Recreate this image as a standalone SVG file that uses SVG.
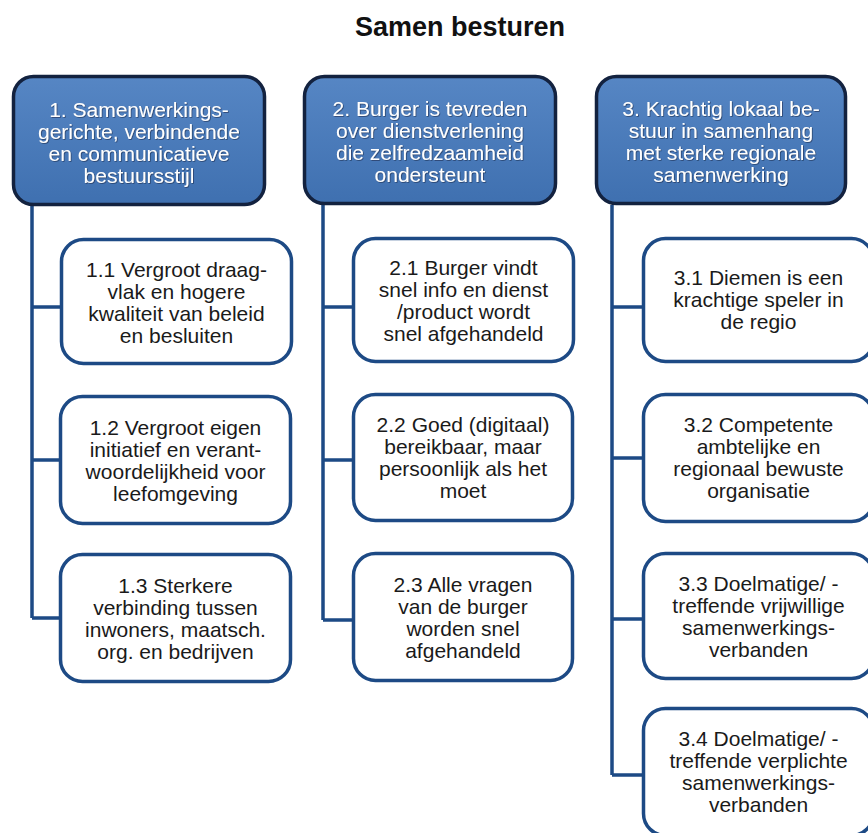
<svg xmlns="http://www.w3.org/2000/svg" width="868" height="833" viewBox="0 0 868 833">
<defs>
<linearGradient id="hg" x1="0" y1="0" x2="0" y2="1">
<stop offset="0" stop-color="#5686c4"/>
<stop offset="1" stop-color="#3f70b0"/>
</linearGradient>
<filter id="ts" x="-5%" y="-5%" width="110%" height="115%">
<feDropShadow dx="0.8" dy="0.8" stdDeviation="0.6" flood-color="#1a2a4a" flood-opacity="0.7"/>
</filter>
</defs>
<style>
.hdr rect{fill:url(#hg);stroke:#13223f;stroke-width:3.5}
.hdr text{fill:#ffffff;font-family:"Liberation Sans",Arial,sans-serif;font-size:21px;text-anchor:middle}
.ch rect{fill:#ffffff;stroke:#1d4a85;stroke-width:3.5}
.ch text{fill:#1a1a1a;font-family:"Liberation Sans",Arial,sans-serif;font-size:21px;text-anchor:middle}
.con path{fill:none;stroke:#1d4a85;stroke-width:3.5}
.title{font-family:"Liberation Sans",Arial,sans-serif;font-weight:bold;font-size:27px;fill:#111;text-anchor:middle}
</style>
<rect width="868" height="833" fill="#ffffff"/>
<text class="title" x="460" y="36">Samen besturen</text>

<g id="connectors" class="con">
<path d="M32 206V618M32 307H60M32 460H60M32 618H60"/>
<path d="M323 205V620M323 307H352M323 460H352M323 620H352"/>
<path d="M612 205V775M612 307H642M612 458H642M612 619H642M612 775H642"/>
</g>

<g id="h1" class="hdr">
<rect x="13.5" y="76.5" width="251" height="128" rx="20"/>
<g filter="url(#ts)"><text x="139" y="117">1. Samenwerkings-</text><text x="139" y="139">gerichte, verbindende</text><text x="139" y="161">en communicatieve</text><text x="139" y="183">bestuursstijl</text></g>
</g>
<g id="h2" class="hdr">
<rect x="304.5" y="76.5" width="251" height="127" rx="20"/>
<g filter="url(#ts)"><text x="430" y="116">2. Burger is tevreden</text><text x="430" y="138">over dienstverlening</text><text x="430" y="160">die zelfredzaamheid</text><text x="430" y="182">ondersteunt</text></g>
</g>
<g id="h3" class="hdr">
<rect x="596.5" y="76.5" width="249" height="127" rx="20"/>
<g filter="url(#ts)"><text x="721" y="116">3. Krachtig lokaal be-</text><text x="721" y="138">stuur in samenhang</text><text x="721" y="160">met sterke regionale</text><text x="721" y="182">samenwerking</text></g>
</g>

<g id="n11" class="ch">
<rect x="61.5" y="239.5" width="230" height="124" rx="22"/>
<text x="176.5" y="277">1.1 Vergroot draag-</text><text x="176.5" y="299">vlak en hogere</text><text x="176.5" y="321">kwaliteit van beleid</text><text x="176.5" y="343">en besluiten</text>
</g>
<g id="n12" class="ch">
<rect x="60.5" y="396.5" width="230" height="127" rx="22"/>
<text x="175.5" y="435">1.2 Vergroot eigen</text><text x="175.5" y="457">initiatief en verant-</text><text x="175.5" y="479">woordelijkheid voor</text><text x="175.5" y="501">leefomgeving</text>
</g>
<g id="n13" class="ch">
<rect x="60.5" y="554.5" width="230" height="127" rx="22"/>
<text x="175.5" y="593">1.3 Sterkere</text><text x="175.5" y="615">verbinding tussen</text><text x="175.5" y="637">inwoners, maatsch.</text><text x="175.5" y="659">org. en bedrijven</text>
</g>

<g id="n21" class="ch">
<rect x="353.5" y="238.5" width="220" height="123" rx="22"/>
<text x="463.5" y="275">2.1 Burger vindt</text><text x="463.5" y="297">snel info en dienst</text><text x="463.5" y="319">/product wordt</text><text x="463.5" y="341">snel afgehandeld</text>
</g>
<g id="n22" class="ch">
<rect x="353.5" y="394.5" width="219" height="126" rx="22"/>
<text x="463" y="432">2.2 Goed (digitaal)</text><text x="463" y="454">bereikbaar, maar</text><text x="463" y="476">persoonlijk als het</text><text x="463" y="498">moet</text>
</g>
<g id="n23" class="ch">
<rect x="353.5" y="553.5" width="219" height="127" rx="22"/>
<text x="463" y="592">2.3 Alle vragen</text><text x="463" y="614">van de burger</text><text x="463" y="636">worden snel</text><text x="463" y="658">afgehandeld</text>
</g>

<g id="n31" class="ch">
<rect x="643.5" y="238.5" width="230" height="123" rx="22"/>
<text x="758.5" y="285">3.1 Diemen is een</text><text x="758.5" y="307">krachtige speler in</text><text x="758.5" y="329">de regio</text>
</g>
<g id="n32" class="ch">
<rect x="643.5" y="394.5" width="230" height="127" rx="22"/>
<text x="758.5" y="432">3.2 Competente</text><text x="758.5" y="454">ambtelijke en</text><text x="758.5" y="476">regionaal bewuste</text><text x="758.5" y="498">organisatie</text>
</g>
<g id="n33" class="ch">
<rect x="643.5" y="553.5" width="230" height="125" rx="22"/>
<text x="758.5" y="591">3.3 Doelmatige/ -</text><text x="758.5" y="613">treffende vrijwillige</text><text x="758.5" y="635">samenwerkings-</text><text x="758.5" y="657">verbanden</text>
</g>
<g id="n34" class="ch">
<rect x="643.5" y="708.5" width="230" height="127" rx="22"/>
<text x="758.5" y="746">3.4 Doelmatige/ -</text><text x="758.5" y="768">treffende verplichte</text><text x="758.5" y="790">samenwerkings-</text><text x="758.5" y="812">verbanden</text>
</g>
</svg>
